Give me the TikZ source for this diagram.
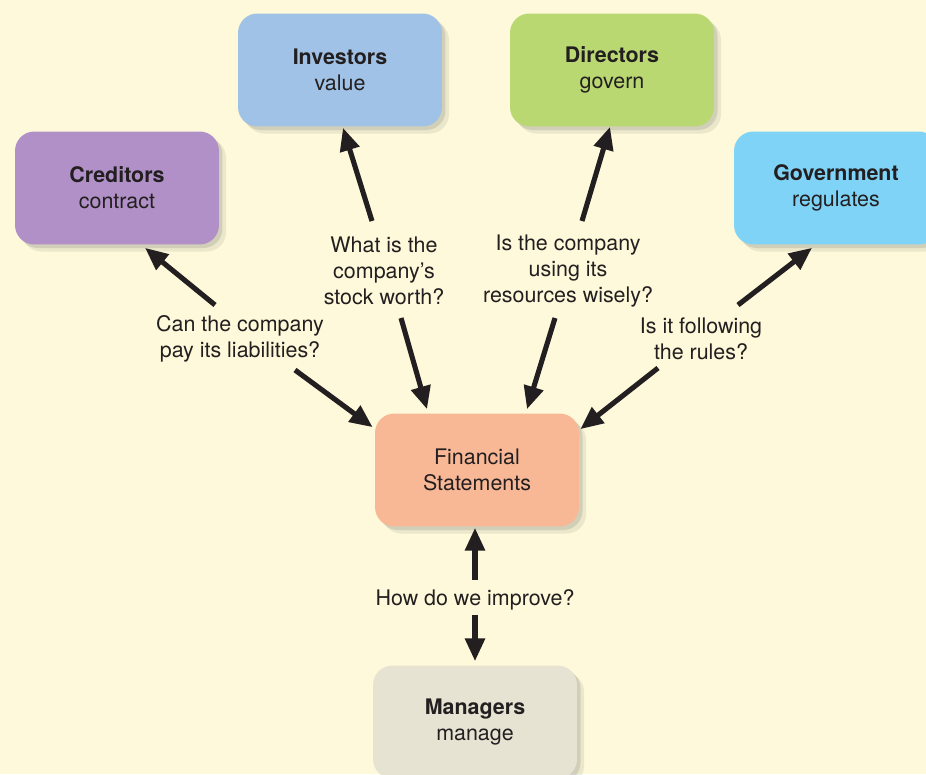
\documentclass[tikz,border=0pt]{standalone}
\usepackage{fontspec}
\setmainfont{TeX Gyre Heros}
\usetikzlibrary{arrows.meta,shadows}
\definecolor{bgcol}{HTML}{FDF9DA}
\definecolor{inkcol}{HTML}{231F20}
\definecolor{credcol}{HTML}{B090C6}
\definecolor{invcol}{HTML}{A0C2E6}
\definecolor{dircol}{HTML}{B9D872}
\definecolor{govcol}{HTML}{7FD3F7}
\definecolor{fincol}{HTML}{F8B896}
\definecolor{mancol}{HTML}{E6E3D3}
\newcommand{\boxw}{4.08cm}
\newcommand{\boxh}{2.26cm}
\newcommand{\txtfont}{\fontsize{12.2}{14.7}\selectfont}

\begin{document}
\begin{tikzpicture}[x=0.02cm,y=-0.02cm]
            %\draw[help lines] (0,0) grid[step=100] (926,774);
            \tikzset{box/.style={rounded corners=11pt, minimum width=\boxw, minimum height=\boxh,
                align=center, text=inkcol, font=\txtfont,
                drop shadow={shadow xshift=4pt, shadow yshift=-4pt, opacity=0.12, fill=black!60},
                drop shadow={shadow xshift=2pt, shadow yshift=-2pt, opacity=0.18, fill=black!60}}}
            \tikzset{ask/.style={align=center, text=inkcol, font=\txtfont, inner sep=0pt}}
            \tikzset{arr/.style={-{Triangle[length=13pt,width=11pt]}, line width=2.9pt, draw=inkcol}}
            \fill[bgcol] (0,0) rectangle (926,774);
            \useasboundingbox (0,0) rectangle (926,774);
            \foreach \nm/\x/\y/\col/\who/\does in {cred/117/188/credcol/Creditors/contract,
                inv/340/70/invcol/Investors/value, dir/612/70/dircol/Directors/govern,
                gov/836/188/govcol/Government/regulates, man/475/722/mancol/Managers/manage} {
                \node[box, fill=\col] (\nm) at (\x,\y) {\textbf{\who}\\\does};
            }
            \node[box, fill=fincol] (fin) at (477,470) {Financial\\Statements};
            % questions
            \node[ask] (qcred) at (240,339) {Can the company\\pay its liabilities?};
            \node[ask] (qinv) at (384,271) {What is the\\company’s\\stock worth?};
            \node[ask] (qdir) at (568,271) {Is the company\\using its\\resources wisely?};
            \node[ask] (qgov) at (701,339) {Is it following\\the rules?};
            \node[ask] (qimp) at (475,600) {How do we improve?};
            % arrows
            \draw[arr] ([shift={(-25,-34)}]qcred.center) -- ([shift={(28,3)}]cred.south);
            \draw[arr] ([shift={(55,31)}]qcred.center) -- ([shift={(-2,14)}]fin.north west);
            \draw[arr] ([shift={(-12,-50)}]qinv.center) -- ([shift={(3,1)}]inv.south);
            \draw[arr] ([shift={(17,47)}]qinv.center) -- ([shift={(-50,-4)}]fin.north);
            \draw[arr] ([shift={(14,-50)}]qdir.center) -- ([shift={(-2,0)}]dir.south);
            \draw[arr] ([shift={(-13,47)}]qdir.center) -- ([shift={(50,-4)}]fin.north);
            \draw[arr] ([shift={(37,-34)}]qgov.center) -- ([shift={(-24,3)}]gov.south);
            \draw[arr] ([shift={(-43,29)}]qgov.center) -- ([shift={(1,16)}]fin.north east);
            \draw[arr] ([shift={(0,-20)}]qimp.center) -- ([shift={(-2,1)}]fin.south);
            \draw[arr] ([shift={(0,15)}]qimp.center) -- ([shift={(0,-4)}]man.north);
\end{tikzpicture}
\end{document}
